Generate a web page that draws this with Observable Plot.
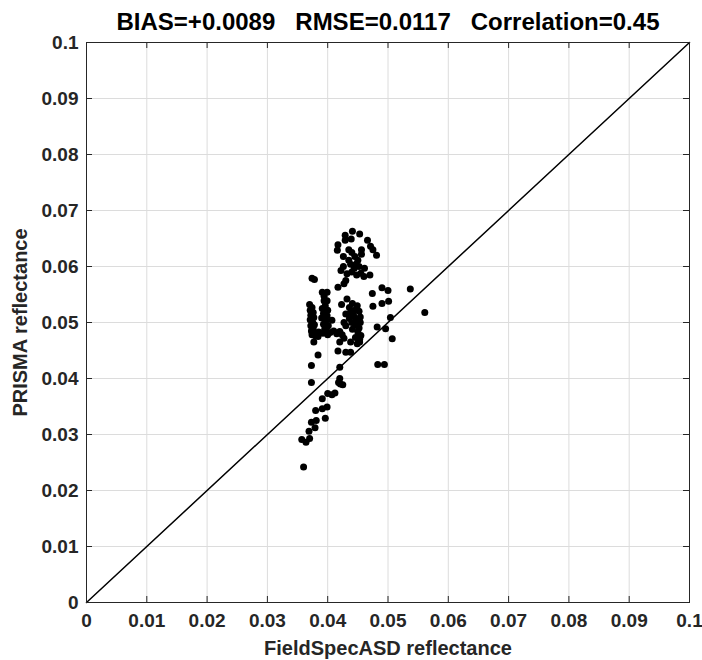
<!DOCTYPE html>
<html>
<head>
<meta charset="utf-8">
<script src="https://cdn.jsdelivr.net/npm/d3@7"></script>
<script src="https://cdn.jsdelivr.net/npm/@observablehq/plot@0.6"></script>
<style>
  html, body { margin: 0; padding: 0; background: #fff; }
  svg { font-family: "Liberation Sans", Arial, sans-serif; }
</style>
</head>
<body>
<div id="chart"></div>
<script>
const titleText = ["BIAS=+0.0089   RMSE=0.0117   Correlation=0.45"];
const xLabel = ["FieldSpecASD reflectance"];
const yLabel = ["PRISMA reflectance"];
const ticks = [0, 0.01, 0.02, 0.03, 0.04, 0.05, 0.06, 0.07, 0.08, 0.09, 0.1];
const tickLabels = ["0", "0.01", "0.02", "0.03", "0.04", "0.05", "0.06", "0.07", "0.08", "0.09", "0.1"];
const oneToOne = [0, 0.1];

// FieldSpecASD reflectance (x) and PRISMA reflectance (y)
const fieldSpec = [
  0.0441,0.0429,0.0453,0.0439,0.0429,0.0466,0.0417,0.0471,0.0475,0.0435,0.0416,0.0456,0.0440,0.0456,0.0481,0.0426,0.0445,0.0435,0.0450,0.0438,0.0447,0.0426,0.0452,0.0444,0.0461,0.0422,0.0440,0.0455,0.0470,0.0432,0.0448,0.0460,0.0430,0.0417,0.0374,0.0378,0.0427,
  0.0490,0.0500,0.0537,0.0474,0.0490,0.0501,0.0475,0.0561,0.0504,0.0482,0.0496,0.0507,0.0483,0.0494,
  0.0391,0.0399,0.0394,0.0399,0.0394,0.0396,0.0391,0.0400,0.0393,0.0399,0.0390,0.0397,0.0393,0.0401,0.0395,
  0.0370,0.0374,0.0371,0.0376,0.0372,0.0377,0.0371,0.0375,0.0378,0.0372,0.0376,0.0373,0.0378,0.0374,0.0380,0.0377,0.0373,
  0.0385,0.0392,0.0398,0.0404,0.0410,0.0415,0.0420,0.0424,0.0427,0.0384,0.0400,
  0.0407,0.0427,0.0384,
  0.0432,0.0423,0.0441,0.0449,0.0436,0.0445,0.0438,0.0452,0.0430,0.0443,0.0454,0.0436,0.0447,0.0454,0.0440,0.0430,0.0446,0.0452,0.0441,0.0450,0.0455,0.0446,0.0453,0.0438,0.0449,0.0420,0.0417,0.0430,0.0438,0.0420,0.0420,0.0453,
  0.0418,0.0421,0.0425,0.0373,0.0400,0.0407,0.0412,0.0391,0.0399,0.0391,0.0380,0.0396,0.0381,0.0373,0.0379,0.0369,0.0357,0.0364,0.0370,0.0360
];
const prisma = [
  0.0663,0.0656,0.0658,0.0649,0.0647,0.0647,0.0639,0.0636,0.0630,0.0630,0.0629,0.0630,0.0625,0.0622,0.0620,0.0618,0.0618,0.0611,0.0611,0.0604,0.0604,0.0600,0.0600,0.0597,0.0597,0.0593,0.0590,0.0588,0.0585,0.0587,0.0585,0.0582,0.0575,0.0563,0.0579,0.0577,0.0569,
  0.0562,0.0557,0.0560,0.0552,0.0534,0.0538,0.0529,0.0518,0.0509,0.0492,0.0489,0.0471,0.0425,0.0425,
  0.0554,0.0554,0.0547,0.0539,0.0539,0.0530,0.0525,0.0522,0.0516,0.0512,0.0508,0.0503,0.0497,0.0494,0.0488,
  0.0532,0.0527,0.0522,0.0518,0.0513,0.0509,0.0505,0.0500,0.0496,0.0494,0.0490,0.0485,0.0482,0.0478,0.0476,0.0465,0.0423,
  0.0483,0.0481,0.0484,0.0482,0.0485,0.0480,0.0484,0.0478,0.0472,0.0475,0.0478,
  0.0504,0.0500,0.0442,
  0.0542,0.0532,0.0534,0.0530,0.0527,0.0522,0.0518,0.0520,0.0515,0.0512,0.0510,0.0507,0.0505,0.0500,0.0500,0.0494,0.0495,0.0490,0.0488,0.0483,0.0477,0.0473,0.0470,0.0465,0.0462,0.0465,0.0449,0.0447,0.0447,0.0420,0.0400,0.0465,
  0.0393,0.0390,0.0389,0.0393,0.0373,0.0371,0.0374,0.0364,0.0349,0.0346,0.0343,0.0329,0.0325,0.0322,0.0312,0.0306,0.0291,0.0286,0.0293,0.0242
];
const points = fieldSpec.map((x, i) => ({x, y: prisma[i]}));
const fmt = d => tickLabels[ticks.indexOf(d)];

const W = 702, H = 660;
const mL = 86, mR = 13, mT = 42, mB = 58;
const innerH = H - mT - mB, innerW = W - mL - mR;
const ink = "#262626";
const fnt = "Liberation Sans, Arial, sans-serif";

const chart = Plot.plot({
  width: W, height: H,
  marginLeft: mL, marginRight: mR, marginTop: mT, marginBottom: mB,
  style: {fontFamily: fnt, color: ink, background: "#fff", overflow: "visible"},
  x: {domain: [0, 0.1]},
  y: {domain: [0, 0.1]},
  marks: [
    Plot.gridX(ticks, {stroke: "#dcdcdc", strokeOpacity: 1}),
    Plot.gridY(ticks, {stroke: "#dcdcdc", strokeOpacity: 1}),
    // inward tick marks on all four sides (box on)
    Plot.ruleX(ticks, {x: d => d, stroke: ink, insetTop: innerH - 6}),
    Plot.ruleX(ticks, {x: d => d, stroke: ink, insetBottom: innerH - 6}),
    Plot.ruleY(ticks, {y: d => d, stroke: ink, insetRight: innerW - 6}),
    Plot.ruleY(ticks, {y: d => d, stroke: ink, insetLeft: innerW - 6}),
    Plot.line(oneToOne, {x: d => d, y: d => d, stroke: "#000", strokeWidth: 1.5}),
    Plot.dot(points, {x: "x", y: "y", r: 3.5, fill: "#000", stroke: "none"}),
    Plot.frame({stroke: ink, strokeWidth: 1}),
    Plot.axisX(ticks, {tickSize: 0, tickPadding: 11, tickFormat: fmt, label: null, fontSize: 19, fontWeight: "bold", fill: ink}),
    Plot.axisY(ticks, {tickSize: 0, tickPadding: 8, tickFormat: fmt, label: null, fontSize: 19, fontWeight: "bold", fill: ink}),
    Plot.text(xLabel, {text: d => d, frameAnchor: "bottom", lineAnchor: "middle", dy: 46, fontSize: 20, fontWeight: "bold", fill: ink}),
    Plot.text(yLabel, {text: d => d, frameAnchor: "left", textAnchor: "middle", lineAnchor: "middle", dx: -66, rotate: -90, fontSize: 20, fontWeight: "bold", fill: ink}),
    Plot.text(titleText, {text: d => d, frameAnchor: "top", lineAnchor: "middle", dy: -20, fontSize: 24, fontWeight: "bold", fill: "#000"})
  ]
});
document.getElementById("chart").appendChild(chart);
</script>
</body>
</html>
